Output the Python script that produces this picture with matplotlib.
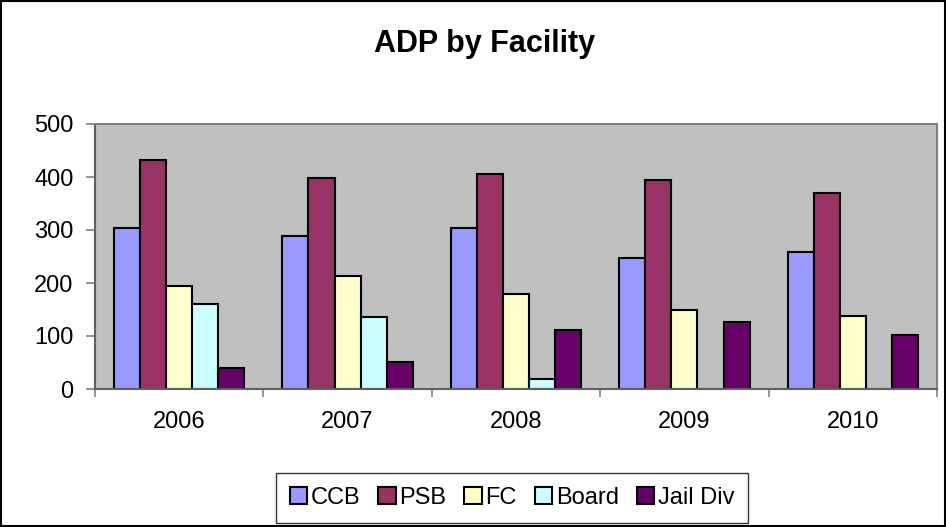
import numpy as np
import matplotlib.pyplot as plt
from matplotlib.patches import Rectangle

plt.rcParams['font.family'] = ['Liberation Sans', 'DejaVu Sans']

years = ['2006', '2007', '2008', '2009', '2010']
series = ['CCB', 'PSB', 'FC', 'Board', 'Jail Div']
ccb = [304, 289, 304, 248, 259]
psb = [432, 399, 406, 395, 369]
fc = [195, 214, 180, 150, 138]
board = [160, 135, 18, 0, 0]
jail = [40, 51, 111, 127, 101]
colors = ['#9999FF', '#993366', '#FFFFCC', '#CCFFFF', '#660066']

fig = plt.figure(figsize=(9.46, 5.27), dpi=100)
ax = fig.add_axes([95 / 946, 1 - 389 / 527, 842 / 946, 265 / 527])
ax.set_facecolor('#C0C0C0')

x = np.arange(len(years))
w = 0.155
for i, (name, vals) in enumerate(zip(series, [ccb, psb, fc, board, jail])):
    pos = x + (i - 2) * w
    ax.bar(pos, vals, width=w, color=colors[i], edgecolor='black',
           linewidth=1.5, label=name)

ax.set_xlim(-0.5, len(years) - 0.5)
ax.set_ylim(0, 500)
ax.set_yticks(range(0, 501, 100))
ax.set_xticks(x)
ax.set_xticklabels(years)
ax.set_xticks(np.arange(-0.5, len(years)), minor=True)
ax.tick_params(axis='x', which='major', length=0, pad=16, labelsize=17)
ax.tick_params(axis='x', which='minor', length=6, color='#808080', width=1.2)
ax.tick_params(axis='y', length=6.5, color='#808080', width=1.2, labelsize=17, pad=9)
for s in ['top', 'right']:
    ax.spines[s].set_color('#808080')
    ax.spines[s].set_linewidth(1.5)
for s in ['left', 'bottom']:
    ax.spines[s].set_color('#606060')
    ax.spines[s].set_linewidth(1.5)

fig.text(485 / 946, 1 - 44 / 527, 'ADP by Facility', ha='center', va='center',
         fontsize=22, fontweight='bold')

leg = fig.legend(loc='center', bbox_to_anchor=(512 / 946, 1 - 498 / 527), ncol=5,
                 fontsize=17, handlelength=0.75, handleheight=0.75, handletextpad=0.15,
                 columnspacing=0.75, frameon=True, fancybox=False, borderpad=0.6,
                 borderaxespad=0)
leg.get_frame().set_edgecolor('black')
leg.get_frame().set_linewidth(1)

fig.patches.append(Rectangle((0.001, 0.001), 0.998, 0.997, transform=fig.transFigure,
                             fill=False, edgecolor='black', linewidth=1.5))

fig.savefig('out.png', dpi=100)
